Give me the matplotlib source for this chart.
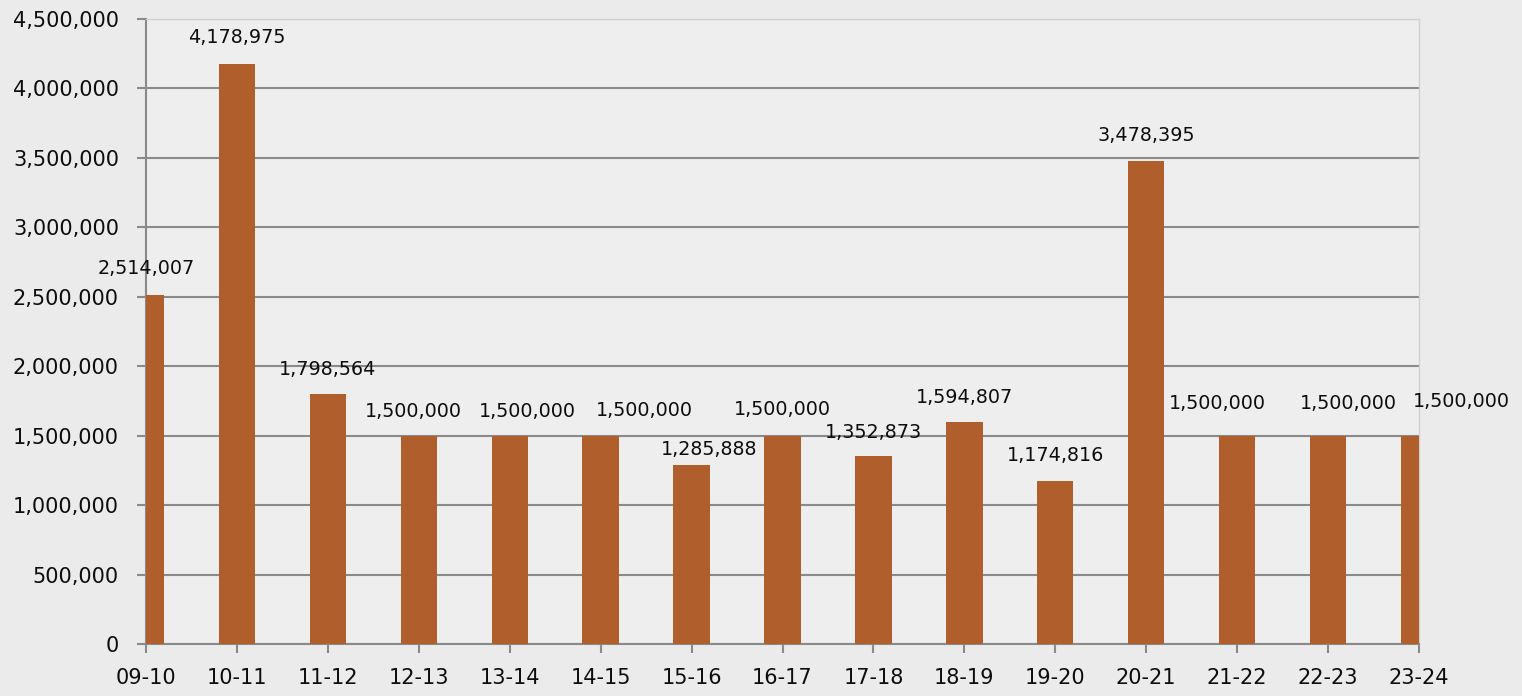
import matplotlib
matplotlib.use("Agg")
import matplotlib.pyplot as plt
from matplotlib.ticker import FuncFormatter, MultipleLocator

# ---- data ----
categories = ["09-10", "10-11", "11-12", "12-13", "13-14", "14-15", "15-16",
              "16-17", "17-18", "18-19", "19-20", "20-21", "21-22", "22-23", "23-24"]
values = [2514007, 4178975, 1798564, 1500000, 1500000, 1500000, 1285888,
          1500000, 1352873, 1594807, 1174816, 3478395, 1500000, 1500000, 1500000]

# ---- label placement (pixel offsets from bar-top centre) ----
label_dx = [0, 0, 0, -5, 18, 44, 18, 0, 0, 0, 0, 0, -20, 20, 42]
label_dy = [26, 26, 25, 24, 24, 25, 16, 26, 24, 25, 25, 25, 32, 32, 34]

BAR = "#B05F2C"
BG = "#ebebeb"
GRID = "#8a8a8a"
TXT = "#0d0d0d"

plt.rcParams["font.family"] = ["DejaVu Sans"]

fig = plt.figure(figsize=(15.22, 6.96), dpi=100, facecolor=BG)
ax = fig.add_axes([146 / 1522, 52 / 696, (1419 - 146) / 1522, (644 - 19) / 696])
ax.set_facecolor("#eeeeee")

x = list(range(len(categories)))
ax.bar(x, values, width=0.4, color=BAR, zorder=3)

ax.set_xlim(0, len(categories) - 1)
ax.set_ylim(0, 4500000)
ax.yaxis.set_major_locator(MultipleLocator(500000))
ax.yaxis.set_major_formatter(FuncFormatter(lambda v, p: f"{int(v):,}"))
ax.set_xticks(x)
ax.set_xticklabels(categories)

ax.grid(axis="y", color=GRID, linewidth=1.5, zorder=1)
ax.set_axisbelow(True)

for s in ["left", "bottom"]:
    ax.spines[s].set_color(GRID)
    ax.spines[s].set_linewidth(1.5)
for s in ["top", "right"]:
    ax.spines[s].set_color("#d2d2d2")
    ax.spines[s].set_linewidth(1.0)

ax.tick_params(axis="y", length=6.5, width=1.5, color=GRID, pad=13,
               labelsize=15, labelcolor=TXT)
ax.tick_params(axis="x", length=6.5, width=1.5, color=GRID, pad=11,
               labelsize=15, labelcolor=TXT)

for i, v in enumerate(values):
    ax.annotate(f"{v:,}", xy=(i, v), xytext=(label_dx[i], label_dy[i]),
                textcoords="offset pixels", ha="center", va="center",
                fontsize=13.75, color=TXT, annotation_clip=False, zorder=5)

fig.savefig("out.png", dpi=100, facecolor=BG)
